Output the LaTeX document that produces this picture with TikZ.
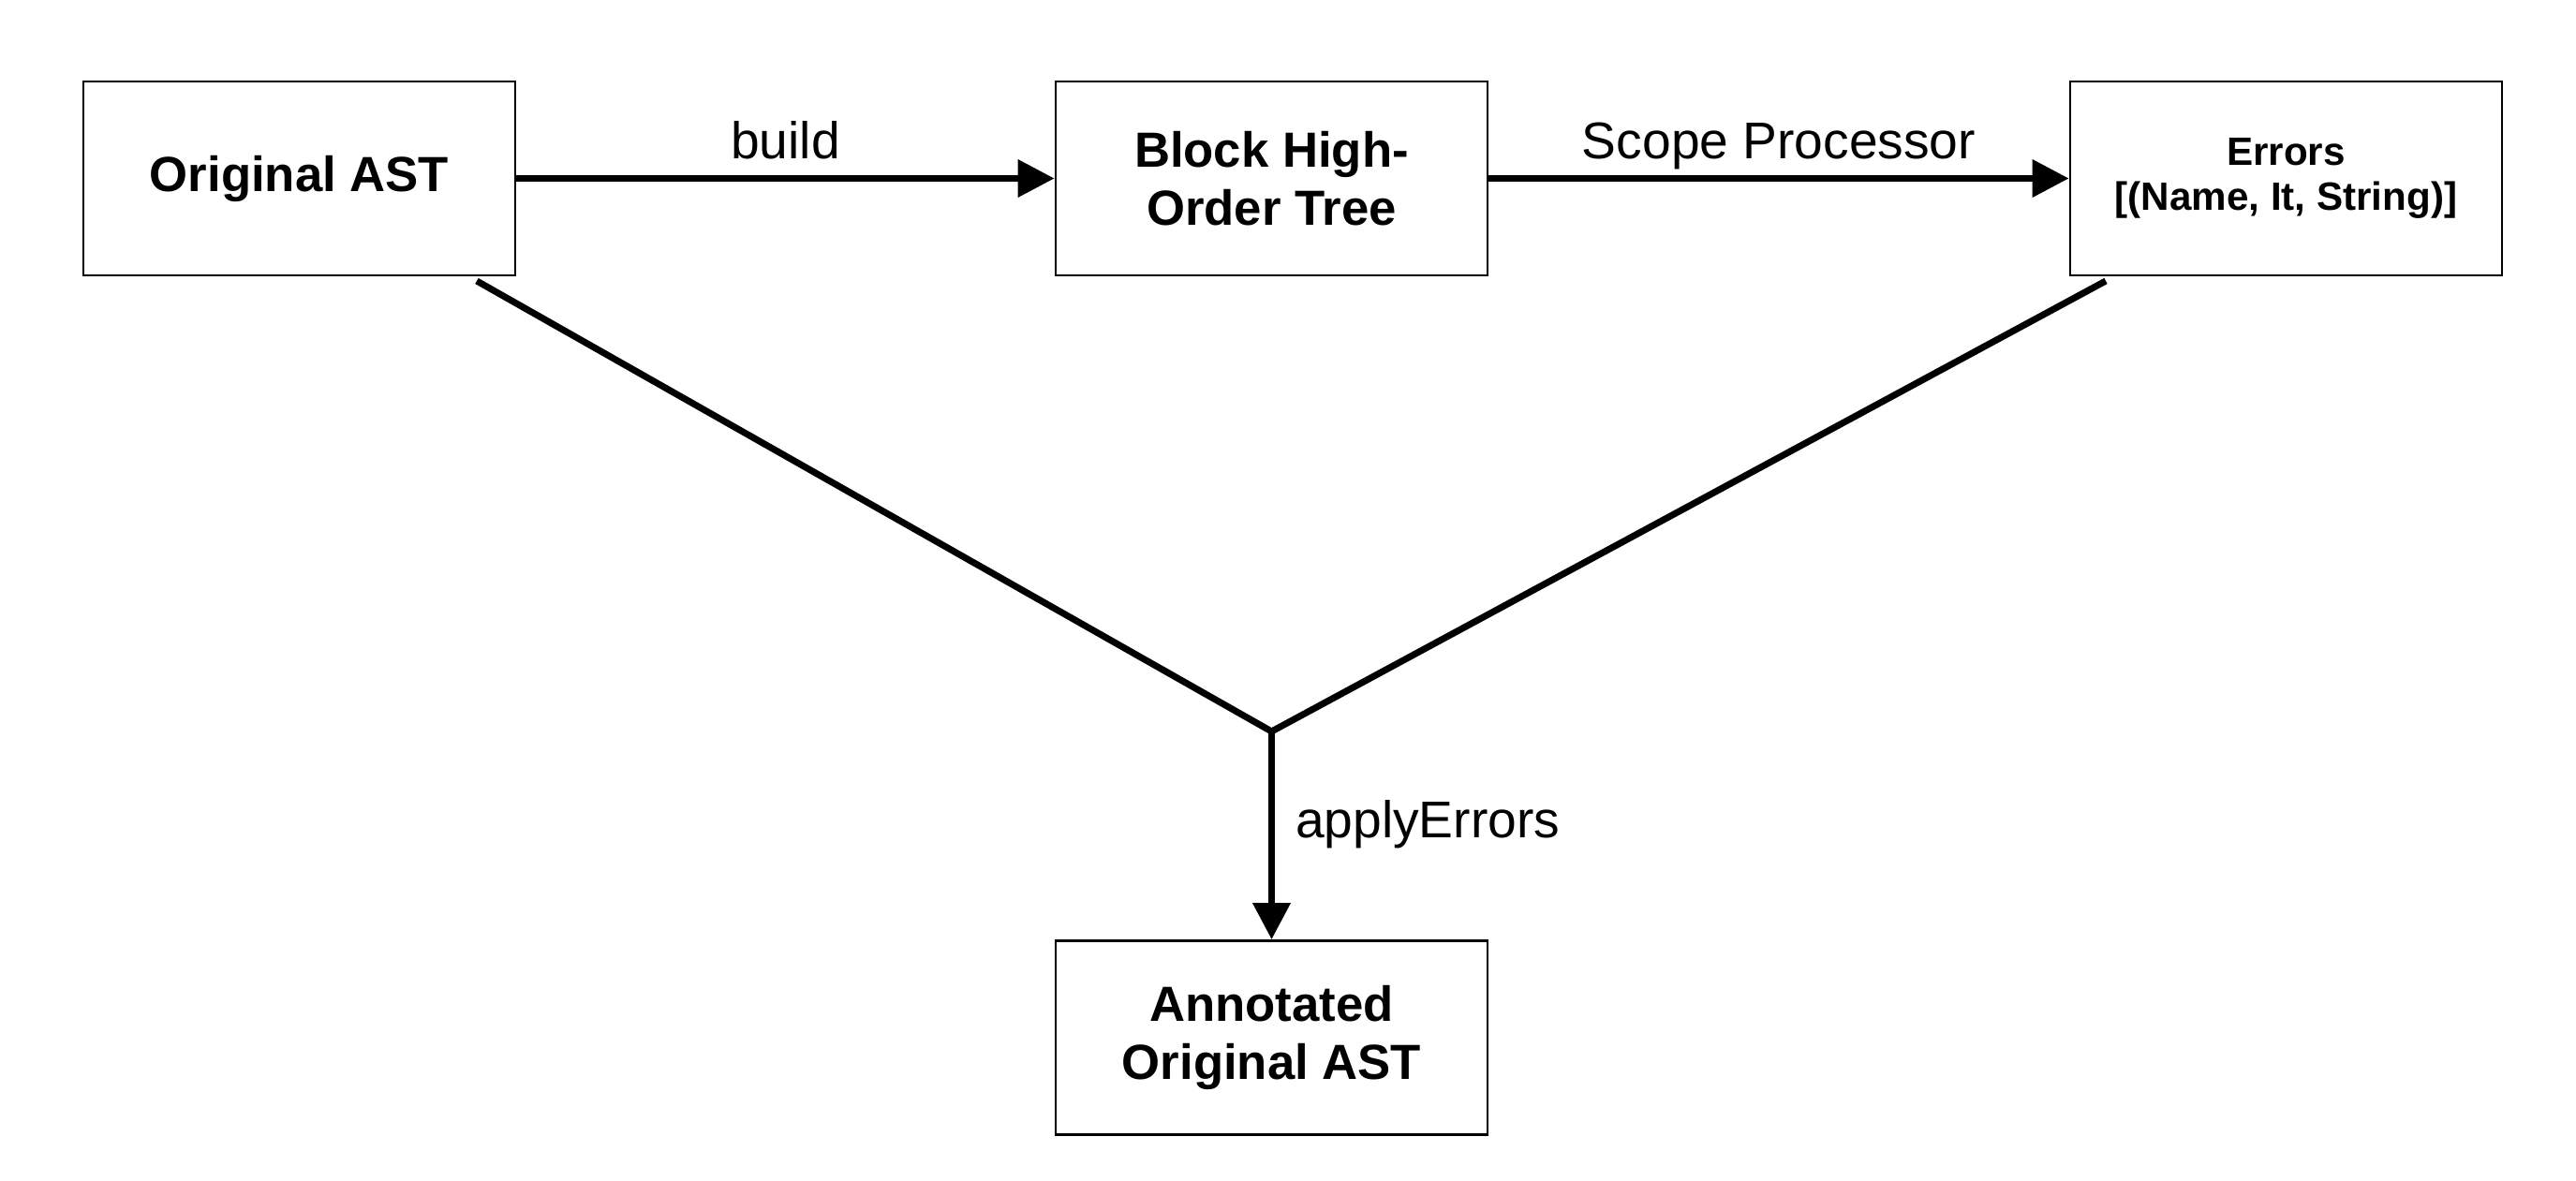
\documentclass[tikz,border=0pt]{standalone}
\usepackage{fontspec}
\setmainfont{Liberation Sans}
\usetikzlibrary{arrows.meta,positioning}
\begin{document}
\begin{tikzpicture}[
  box/.style={draw,line width=0.8pt,minimum width=4.61cm,minimum height=2.07cm,align=center,font=\fontsize{15}{17.5}\selectfont\bfseries},
  flow/.style={line width=2pt,-{Triangle[length=0.39cm,width=0.39cm]}},
  merge/.style={line width=2pt,line join=miter},
  lbl/.style={font=\fontsize{15.7}{18}\selectfont,inner sep=0pt,text depth=0pt}]
  \useasboundingbox (0,0) rectangle (27.5,12.6);
  \node [box] (orig) at (3.195,10.695) {Original AST};
  \node [box] (block) at (13.575,10.695) {Block High-\\Order Tree};
  \node [box,font=\fontsize{12}{13.5}\selectfont\bfseries] (errors) at (24.405,10.695) {Errors\\{}[(Name, It, String)]};
  \node [box] (annot) at (13.575,1.52) {Annotated\\Original AST};
  \coordinate (join) at (13.575,4.79);
  \coordinate (origout) at (5.09,9.6);
  \coordinate (errout) at (22.48,9.6);
  \draw [flow] (orig) -- node [lbl,above=0.17cm] {build} (block);
  \draw [flow] (block) -- node [lbl,above=0.17cm] {Scope Processor} (errors);
  \draw [merge] (origout) -- (join) -- (errout);
  \draw [flow] (join) -- node [lbl,right=0.22cm,pos=0.42] {applyErrors} (annot);
\end{tikzpicture}
\end{document}
